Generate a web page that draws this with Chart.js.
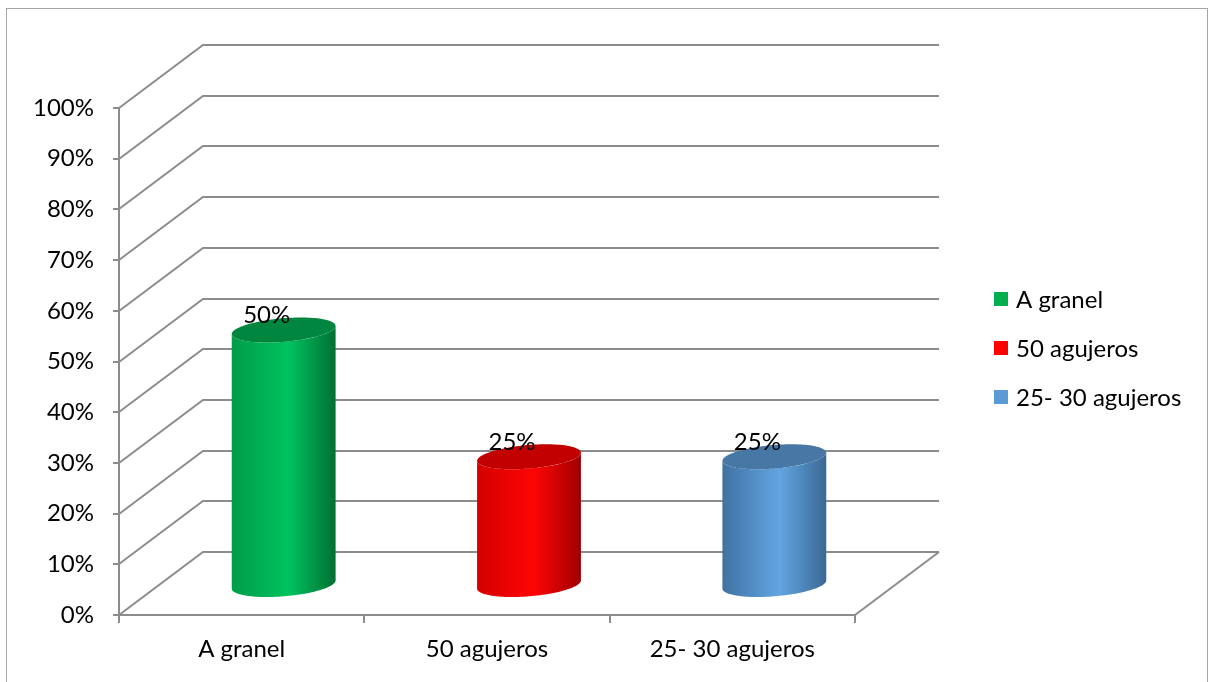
<!DOCTYPE html>
<html>
<head>
<meta charset="utf-8">
<script src="https://cdn.jsdelivr.net/npm/chart.js@4.4.1/dist/chart.umd.min.js"></script>
<style>
  html, body { margin: 0; padding: 0; background: #fff; }
  #wrap { width: 1209px; height: 682px; }
</style>
</head>
<body>
<div id="wrap"><canvas id="chart" width="1209" height="682"></canvas></div>
<script>
// Categories and their shares (percent)
const categories = ['A granel', '50 agujeros', '25- 30 agujeros'];
const shares = [50, 25, 25];
const legendColors = ['#00B050', '#FF0000', '#5B9BD5'];

// shading for each cylinder: left edge, highlight, right edge, top cap
const cylinderShades = [
  ['#009c49', '#00c35f', '#006f33', '#00863e'],
  ['#d40000', '#ff0505', '#9e0000', '#c20000'],
  ['#3f72a2', '#62a5e2', '#3a6894', '#4677a5']
];

const FONT = 'Lato';
const FONT_SIZE = 24;
const GRID = '#8c8c8c';
const DEPTH_X = 84, DEPTH_Y = -63;   // back wall offset
const SHEAR_X = 17, SHEAR_Y = -12.5; // how the round cap leans in depth

function capPoint(cx, cy, r, t) {
  return [cx + r * Math.cos(t) + SHEAR_X * Math.sin(t), cy + SHEAR_Y * Math.sin(t)];
}

const wallsPlugin = {
  id: 'walls',
  beforeDraw(chart) {
    const ctx = chart.ctx;
    ctx.save();
    ctx.strokeStyle = '#a6a6a6';
    ctx.lineWidth = 1;
    ctx.strokeRect(6.5, 8.5, 1201, 700);
    ctx.restore();
  },
  beforeDatasetsDraw(chart) {
    const { ctx, chartArea, scales: { x, y } } = chart;
    ctx.save();
    ctx.strokeStyle = GRID;
    ctx.lineWidth = 2;
    y.ticks.forEach(t => {
      const py = Math.round(y.getPixelForValue(t.value));
      ctx.beginPath();
      ctx.moveTo(chartArea.left, py);
      ctx.lineTo(chartArea.left + DEPTH_X, py + DEPTH_Y);
      ctx.lineTo(chartArea.right + DEPTH_X, py + DEPTH_Y);
      ctx.stroke();
    });
    // right edge of the floor
    const by = Math.round(y.getPixelForValue(0));
    ctx.beginPath();
    ctx.moveTo(chartArea.right, by);
    ctx.lineTo(chartArea.right + DEPTH_X, by + DEPTH_Y);
    ctx.stroke();
    ctx.restore();
  },
  afterDatasetsDraw(chart) {
    const { ctx, scales: { x, y } } = chart;
    const r = x.width / categories.length * 0.2;
    const t0 = Math.atan2(SHEAR_X, r);
    const N = 60;
    ctx.save();
    shares.forEach((v, i) => {
      const cx = x.getPixelForValue(i) + DEPTH_X / 2;
      const topY = y.getPixelForValue(v) + DEPTH_Y / 2;
      const baseY = y.getPixelForValue(0) + DEPTH_Y / 2 + 1;
      const shade = cylinderShades[i];

      // body
      const left = capPoint(cx, topY, r, t0 + Math.PI)[0];
      const right = capPoint(cx, topY, r, t0)[0];
      const grad = ctx.createLinearGradient(left, 0, right, 0);
      grad.addColorStop(0, shade[0]);
      grad.addColorStop(0.55, shade[1]);
      grad.addColorStop(1, shade[2]);
      ctx.beginPath();
      for (let k = 0; k <= N; k++) {
        const p = capPoint(cx, topY, r, t0 + Math.PI + Math.PI * k / N);
        k === 0 ? ctx.moveTo(p[0], p[1]) : ctx.lineTo(p[0], p[1]);
      }
      for (let k = N; k >= 0; k--) {
        const p = capPoint(cx, baseY, r, t0 + Math.PI + Math.PI * k / N);
        ctx.lineTo(p[0], p[1]);
      }
      ctx.closePath();
      ctx.fillStyle = grad;
      ctx.fill();

      // top cap
      ctx.beginPath();
      for (let k = 0; k <= N * 2; k++) {
        const p = capPoint(cx, topY, r, Math.PI * k / N);
        k === 0 ? ctx.moveTo(p[0], p[1]) : ctx.lineTo(p[0], p[1]);
      }
      ctx.closePath();
      ctx.fillStyle = shade[3];
      ctx.fill();

      // value label
      ctx.fillStyle = '#000';
      ctx.font = FONT_SIZE + 'px ' + FONT;
      ctx.textAlign = 'center';
      ctx.textBaseline = 'middle';
      ctx.fillText(v + '%', x.getPixelForValue(i) + 25, y.getPixelForValue(v) - 46);
    });
    ctx.restore();
  },
  afterDraw(chart) {
    const ctx = chart.ctx;
    ctx.save();
    ctx.font = FONT_SIZE + 'px ' + FONT;
    ctx.textAlign = 'left';
    ctx.textBaseline = 'middle';
    categories.forEach((c, i) => {
      const cy = 299 + i * 49;
      ctx.fillStyle = legendColors[i];
      ctx.fillRect(994, cy - 7, 14, 14);
      ctx.fillStyle = '#000';
      ctx.fillText(c, 1016, cy + 1);
    });
    ctx.restore();
  }
};

new Chart(document.getElementById('chart'), {
  type: 'bar',
  data: {
    labels: categories,
    datasets: [{
      data: shares,
      backgroundColor: 'rgba(0,0,0,0)',
      borderWidth: 0
    }]
  },
  options: {
    responsive: false,
    animation: false,
    layout: { padding: { left: 0, top: 108, right: 354, bottom: 0 } },
    plugins: { legend: { display: false }, tooltip: { enabled: false } },
    scales: {
      x: {
        afterFit(scale) { scale.height = 67; },
        grid: { drawOnChartArea: false, drawTicks: true, tickLength: 8, color: GRID, lineWidth: 2 },
        border: { display: true, color: GRID, width: 2 },
        ticks: { color: '#000', font: { family: FONT, size: FONT_SIZE }, padding: 12, maxRotation: 0 }
      },
      y: {
        min: 0,
        max: 100,
        afterFit(scale) { scale.width = 119; },
        grid: { drawOnChartArea: false, drawTicks: true, tickLength: 6, color: GRID, lineWidth: 2 },
        border: { display: true, color: GRID, width: 2 },
        ticks: {
          stepSize: 10,
          color: '#000',
          font: { family: FONT, size: FONT_SIZE },
          padding: 19,
          callback: v => v + '%'
        }
      }
    }
  },
  plugins: [wallsPlugin]
});
</script>
</body>
</html>
